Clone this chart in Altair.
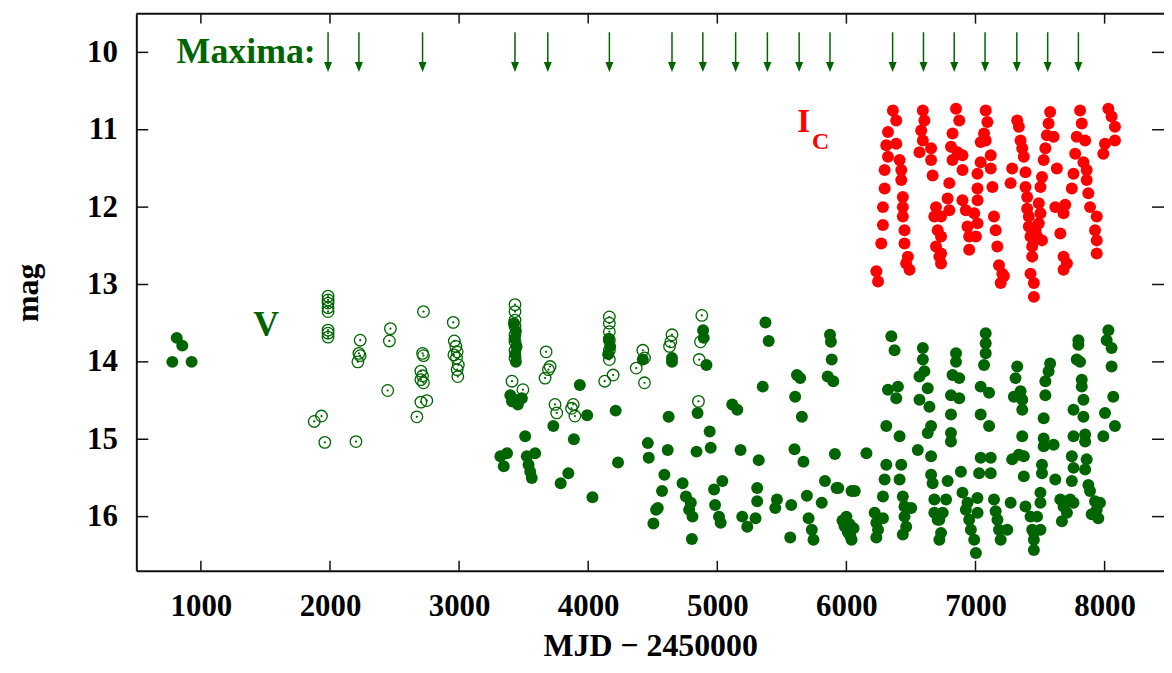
import altair as alt
import pandas as pd

# ---------------- data ----------------
maxima_jd = [1985, 2224, 2717, 3433, 3687, 4164, 4649, 4888, 5142, 5388,
             5634, 5873, 6358, 6597, 6835, 7074, 7320, 7559, 7797]

# V band, open circles (older photometry)
v_open = [
    (1985, 13.15), (1985, 13.20), (1985, 13.24), (1985, 13.30), (1985, 13.35),
    (1985, 13.59), (1985, 13.63), (1985, 13.68),
    (1934, 14.70), (1878, 14.77), (1960, 15.04), (2201, 15.03),
    (2234, 13.72), (2224, 13.89), (2234, 13.92), (2216, 14.00),
    (2468, 13.57), (2460, 13.73), (2447, 14.37),
    (2724, 13.35), (2717, 13.89), (2724, 13.92), (2704, 14.12), (2717, 14.18),
    (2704, 14.23), (2724, 14.27), (2704, 14.52), (2750, 14.50), (2673, 14.71),
    (2955, 13.49), (2963, 13.73), (2975, 13.80), (2985, 13.87), (2960, 13.91),
    (2980, 13.95), (2994, 14.04), (2985, 14.10), (2990, 14.19),
    (3433, 13.26), (3433, 13.35), (3433, 13.46), (3433, 13.54), (3433, 13.65),
    (3433, 13.74), (3433, 13.85), (3433, 13.95), (3410, 14.25), (3494, 14.36),
    (3674, 13.87), (3705, 14.06), (3692, 14.10), (3666, 14.21),
    (3743, 14.55), (3756, 14.66), (3884, 14.55), (3897, 14.70), (3871, 14.60),
    (4164, 13.42), (4164, 13.50), (4164, 13.61), (4164, 13.72), (4164, 13.85),
    (4164, 13.97), (4128, 14.25), (4193, 14.17),
    (4423, 13.85), (4436, 13.95), (4372, 14.08), (4436, 14.27),
    (4649, 13.65), (4640, 13.74), (4630, 13.80),
    (4880, 13.40), (4870, 13.74), (4860, 13.97), (4854, 14.51),
]

# V band, filled circles
v_early = [
    (813, 13.69), (856, 13.79), (779, 14.00), (928, 14.00),
    (3425, 13.50), (3440, 13.60), (3430, 13.70), (3445, 13.80), (3435, 13.90),
    (3440, 14.00), (3397, 14.43), (3410, 14.51), (3486, 14.47), (3433, 14.49),
    (3455, 14.55), (3320, 15.22), (3371, 15.18), (3346, 15.35), (3512, 14.96),
    (3525, 15.22), (3589, 15.18), (3538, 15.33), (3563, 15.50), (3551, 15.42),
    (3730, 14.83), (3935, 14.30), (3992, 14.69), (3889, 15.00), (3846, 15.44),
    (3787, 15.57), (4033, 15.75),
    (4160, 13.70), (4170, 13.80), (4155, 13.90), (4213, 14.63), (4231, 15.30),
    (4423, 13.97), (4623, 14.71), (4462, 15.05), (4469, 15.24), (4616, 15.14),
    (4590, 15.46), (4572, 15.67), (4539, 15.89), (4526, 15.91), (4505, 16.09),
    (4649, 13.95), (4649, 14.00),
    (4731, 15.57), (4757, 15.74), (4782, 15.91), (4808, 16.00), (4795, 15.82),
    (4803, 16.29), (4890, 13.59), (4895, 13.69), (4916, 14.04), (4847, 14.66),
    (4941, 14.90), (4949, 15.11), (4839, 15.16),
    (5039, 15.54), (4975, 15.65), (4983, 15.85), (5013, 16.00), (5026, 16.08),
    (5116, 14.55), (5155, 14.62), (5180, 15.14),
    (5193, 16.00), (5232, 16.13), (5296, 16.02),
    (5309, 15.63), (5309, 15.80), (5321, 15.27),
    (5373, 13.49), (5398, 13.73), (5352, 14.32),
    (5462, 15.78), (5449, 15.89), (5573, 15.85), (5565, 16.27),
    (5598, 15.13), (5667, 15.29),
    (5617, 14.17), (5642, 14.21), (5603, 14.45), (5655, 14.71),
    (5694, 15.73), (5707, 16.02), (5732, 16.17), (5745, 16.30),
    (5809, 15.82), (5834, 15.54), (5924, 15.63), (5911, 15.19),
    (5873, 13.65), (5880, 13.74), (5886, 13.97), (5855, 14.19), (5898, 14.25),
    (5970, 16.05), (5985, 16.12), (6000, 16.00), (6010, 16.20), (6025, 16.10),
    (6040, 16.30), (6055, 16.15), (6030, 16.25),
    (6040, 15.67), (5937, 15.63), (6065, 15.67), (6155, 15.18),
    (6219, 15.95), (6232, 16.08), (6245, 16.17), (6232, 16.27), (6283, 16.02),
]

v_late = [
    (6348, 13.67), (6373, 13.85), (6322, 14.36), (6399, 14.32), (6386, 14.47),
    (6309, 14.83), (6412, 14.96), (6309, 15.33), (6425, 15.33), (6296, 15.52),
    (6412, 15.52), (6283, 15.74), (6437, 15.74), (6450, 15.87), (6502, 15.89),
    (6450, 16.00), (6463, 16.13), (6437, 16.23),
    (6592, 13.82), (6592, 13.97), (6604, 14.12), (6566, 14.19), (6630, 14.34),
    (6566, 14.49), (6643, 14.58), (6656, 14.83), (6630, 14.92), (6553, 15.14),
    (6656, 15.22), (6656, 15.46), (6668, 15.57), (6681, 15.95), (6707, 16.04),
    (6733, 16.21), (6720, 16.30), (6681, 15.78),
    (6849, 13.89), (6849, 14.00), (6822, 14.17), (6874, 14.21), (6810, 14.43),
    (6874, 14.47), (6810, 14.68), (6810, 14.92), (6810, 15.03), (6784, 15.54),
    (6887, 15.42), (6772, 15.78), (6746, 15.95), (6720, 16.04), (6899, 15.69),
    (6925, 15.91), (6951, 16.04), (6964, 16.17), (6990, 16.30), (7003, 16.47),
    (7016, 15.95), (6938, 15.82),
    (7079, 13.63), (7079, 13.76), (7079, 13.89), (7066, 14.04), (7040, 14.32),
    (7105, 14.40), (7040, 14.68), (7105, 14.83), (7040, 15.24), (7118, 15.24),
    (7028, 15.44), (7118, 15.44), (7015, 15.76), (7143, 15.78), (7156, 15.93),
    (7170, 16.04), (7182, 16.17), (7195, 16.30), (7246, 16.17),
    (7323, 14.06), (7310, 14.21), (7349, 14.38), (7297, 14.45), (7362, 14.49),
    (7362, 14.62), (7362, 14.96), (7336, 15.20), (7374, 15.22), (7284, 15.26),
    (7374, 15.48), (7272, 15.82), (7387, 15.87), (7426, 16.00), (7439, 16.17),
    (7452, 16.30), (7452, 16.43),
    (7578, 14.02), (7566, 14.12), (7541, 14.25), (7541, 14.43), (7528, 14.73),
    (7528, 14.99), (7528, 15.09), (7605, 15.07), (7515, 15.33), (7515, 15.44),
    (7618, 15.52), (7503, 15.69), (7503, 15.82), (7477, 16.00), (7503, 16.17),
    (7452, 16.21),
    (7657, 15.78), (7682, 15.87), (7708, 15.95), (7669, 16.06), (7759, 15.82),
    (7733, 15.78),
    (7797, 13.72), (7797, 13.78), (7784, 13.97), (7810, 14.00), (7823, 14.23),
    (7823, 14.32), (7836, 14.49), (7759, 14.62), (7836, 14.71), (7759, 14.96),
    (7849, 14.94), (7849, 15.03), (7746, 15.22), (7861, 15.26), (7759, 15.37),
    (7746, 15.54), (7849, 15.39), (7874, 15.59), (7887, 15.67), (7926, 15.80),
    (7939, 15.91), (7900, 15.97), (7964, 15.82), (7951, 16.02),
    (8029, 13.59), (8016, 13.72), (8054, 13.82), (8054, 14.06), (8067, 14.45),
    (8003, 14.66), (8080, 14.83), (7990, 14.96),
]

# I_C band (red)
ic_points = [
    (6360, 10.75), (6386, 10.88), (6322, 11.03), (6309, 11.20), (6386, 11.18),
    (6322, 11.35), (6412, 11.39), (6296, 11.52), (6425, 11.52), (6296, 11.76),
    (6425, 11.65), (6283, 12.00), (6437, 11.87), (6283, 12.23), (6437, 12.00),
    (6270, 12.47), (6437, 12.12), (6450, 12.30), (6450, 12.47), (6476, 12.64),
    (6489, 12.81), (6232, 12.83), (6245, 12.96), (6463, 12.73),
    (6592, 10.75), (6604, 10.88), (6579, 11.01), (6592, 11.14), (6566, 11.29),
    (6656, 11.24), (6656, 11.39), (6668, 11.59), (6694, 12.00), (6681, 12.12),
    (6733, 12.12), (6707, 12.30), (6733, 12.38), (6694, 12.51), (6733, 12.60),
    (6733, 12.73), (6720, 12.64),
    (6849, 10.73), (6874, 10.88), (6822, 11.05), (6810, 11.22), (6861, 11.29),
    (6822, 11.39), (6899, 11.33), (6899, 11.52), (6797, 11.69), (6784, 11.89),
    (6797, 12.04), (6899, 11.91), (6925, 12.04), (6938, 12.25), (6951, 12.38),
    (6951, 12.55), (6990, 12.08), (7016, 12.21), (7003, 12.38), (7016, 11.91),
    (7079, 10.75), (7092, 10.90), (7066, 11.05), (7079, 11.14), (7040, 11.16),
    (7118, 11.33), (7040, 11.42), (7118, 11.50), (7015, 11.57), (7131, 11.74),
    (7015, 11.76), (7143, 12.12), (7156, 12.30), (7169, 12.51), (7182, 12.75),
    (7208, 12.86), (7195, 12.98), (7220, 12.89),
    (7323, 10.88), (7336, 10.96), (7349, 11.14), (7362, 11.24), (7374, 11.35),
    (7284, 11.50), (7387, 11.55), (7272, 11.69), (7387, 11.74), (7400, 11.87),
    (7400, 12.02), (7413, 12.12), (7413, 12.25), (7426, 12.38), (7439, 12.51),
    (7439, 12.64), (7426, 12.86), (7452, 12.98), (7452, 13.16),
    (7578, 10.77), (7566, 10.92), (7553, 11.07), (7605, 11.09), (7541, 11.24),
    (7528, 11.39), (7630, 11.50), (7515, 11.61), (7503, 11.74), (7490, 11.95),
    (7503, 12.08), (7490, 12.21), (7477, 12.38), (7515, 12.43), (7465, 12.30),
    (7618, 12.00), (7695, 11.97), (7682, 12.08), (7657, 12.34), (7682, 12.64),
    (7682, 12.81), (7708, 12.73),
    (7810, 10.75), (7823, 10.92), (7784, 11.09), (7849, 11.14), (7772, 11.31),
    (7836, 11.42), (7759, 11.57), (7861, 11.65), (7746, 11.76), (7874, 11.82),
    (7887, 12.00), (7939, 12.12), (7926, 12.30), (7939, 12.43), (7939, 12.60),
    (7861, 11.52),
    (8029, 10.73), (8054, 10.83), (8080, 10.96), (8080, 11.14), (8003, 11.18),
    (7990, 11.31),
]

x_ticks = [1000, 2000, 3000, 4000, 5000, 6000, 7000, 8000]
y_ticks = [10, 11, 12, 13, 14, 15, 16]

labels = [
    {"x": 1890, "y": 10.0, "t": "Maxima:", "size": 36, "color": "#006400", "align": "right"},
    {"x": 1505, "y": 13.52, "t": "V", "size": 36, "color": "#006400", "align": "center"},
    {"x": 5669, "y": 10.90, "t": "I", "size": 33, "color": "#ff0000", "align": "center"},
    {"x": 5800, "y": 11.16, "t": "C", "size": 24, "color": "#ff0000", "align": "center"},
]

# ---------------- styling ----------------
W, H = 1033, 560
XDOM = [500, 8460]
YDOM = [9.5, 16.7]
GREEN = "#006400"
RED = "#ff0000"
FONT = "Liberation Serif"
AX = "#111111"

xs = alt.Scale(domain=XDOM, nice=False, zero=False)
ys = alt.Scale(domain=YDOM, reverse=True, nice=False, zero=False)

x_axis = alt.Axis(
    values=x_ticks, title="MJD \u2212 2450000", grid=False, ticks=False,
    domain=True, domainColor=AX, domainWidth=2,
    labelFont=FONT, labelFontWeight="bold", labelFontSize=31, labelColor="#000",
    labelBaseline="alphabetic", labelPadding=45, labelFlush=False, labelOverlap=False,
    format="d",
    titleFont=FONT, titleFontWeight="bold", titleFontSize=32, titleColor="#000",
    titleX=W / 2, titleY=85, titleBaseline="alphabetic", titleAlign="center",
)
y_axis = alt.Axis(
    values=y_ticks, title="mag", grid=False, ticks=False,
    domain=True, domainColor=AX, domainWidth=2,
    labelFont=FONT, labelFontWeight="bold", labelFontSize=31, labelColor="#000",
    labelBaseline="middle", labelAlign="right", labelPadding=19,
    labelFlush=False, labelOverlap=False, format="d",
    titleFont=FONT, titleFontWeight="bold", titleFontSize=32, titleColor="#000",
    titleAngle=270, titleX=-109, titleY=H / 2, titleBaseline="middle", titleAlign="center",
)

X = alt.X("x:Q", scale=xs, axis=x_axis)
Y = alt.Y("y:Q", scale=ys, axis=y_axis)


def df_of(pairs):
    return pd.DataFrame({"x": [p[0] for p in pairs], "y": [p[1] for p in pairs]})


open_df = df_of(v_open)
fill_df = df_of(v_early + v_late)
ic_df = df_of(ic_points)

open_layer = alt.Chart(open_df).mark_point(
    shape="circle", filled=False, size=135, strokeWidth=1.3, color=GREEN, opacity=1
).encode(x=X, y=Y)
dot_layer = alt.Chart(open_df).mark_circle(size=5, color=GREEN, opacity=1).encode(x=X, y=Y)
fill_layer = alt.Chart(fill_df).mark_circle(size=145, color=GREEN, opacity=1).encode(x=X, y=Y)
ic_layer = alt.Chart(ic_df).mark_circle(size=145, color=RED, opacity=1).encode(x=X, y=Y)

arrow_df = pd.DataFrame({"x": maxima_jd, "y": [9.74] * len(maxima_jd),
                         "y2": [10.15] * len(maxima_jd), "yh": [10.19] * len(maxima_jd)})
arrow_shaft = alt.Chart(arrow_df).mark_rule(color=GREEN, strokeWidth=1.5).encode(
    x=X, y=Y, y2="y2:Q")
arrow_head = alt.Chart(arrow_df).mark_point(
    shape="M-0.8,-1L0.8,-1L0,1Z", filled=True, size=100, color=GREEN, opacity=1
).encode(x=X, y=alt.Y("yh:Q", scale=ys, axis=y_axis))

text_layers = []
for lab in labels:
    text_layers.append(
        alt.Chart(pd.DataFrame([lab])).mark_text(
            font=FONT, fontWeight="bold", fontSize=lab["size"], color=lab["color"],
            align=lab["align"], baseline="middle"
        ).encode(x=X, y=Y, text="t:N")
    )

xt_df = pd.DataFrame({"x": x_ticks})
yt_df = pd.DataFrame({"y": y_ticks})
one = pd.DataFrame({"a": [0]})
top_ticks = alt.Chart(xt_df).mark_rule(color=AX, strokeWidth=1.5).encode(
    x=X, y=alt.value(0), y2=alt.value(10))
bot_ticks = alt.Chart(xt_df).mark_rule(color=AX, strokeWidth=1.5).encode(
    x=X, y=alt.value(H - 10), y2=alt.value(H))
left_ticks = alt.Chart(yt_df).mark_rule(color=AX, strokeWidth=1.5).encode(
    y=Y, x=alt.value(0), x2=alt.value(12))
right_ticks = alt.Chart(yt_df).mark_rule(color=AX, strokeWidth=1.5).encode(
    y=Y, x=alt.value(W - 12), x2=alt.value(W))
top_line = alt.Chart(one).mark_rule(color=AX, strokeWidth=2).encode(
    x=alt.value(0), x2=alt.value(W), y=alt.value(0))

chart = alt.layer(
    top_line, top_ticks, bot_ticks, left_ticks, right_ticks,
    open_layer, dot_layer, fill_layer, ic_layer,
    arrow_shaft, arrow_head, *text_layers,
).properties(
    width=W, height=H,
    autosize=alt.AutoSizeParams(type="none"),
    padding={"left": 129, "top": 4, "right": 0, "bottom": 93},
    background="white",
).configure_view(stroke=None)

chart.save("out.html", embed_options={"renderer": "svg", "actions": False})
